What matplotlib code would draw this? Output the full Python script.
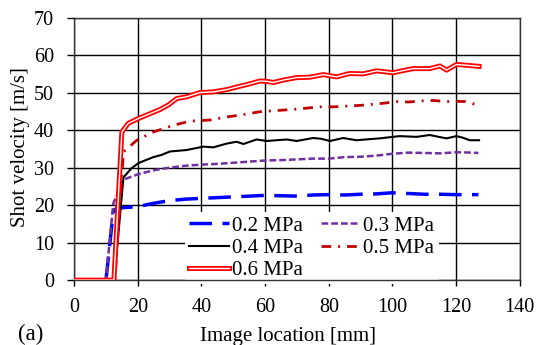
import matplotlib
matplotlib.use("Agg")
import matplotlib.pyplot as plt
import matplotlib.patheffects as pe

plt.rcParams['font.family'] = ['Liberation Serif', 'DejaVu Serif']
plt.rcParams['font.size'] = 14.5

# Datos
x02 = [0, 10, 12.3, 13.4, 20, 25, 30, 35, 40, 45, 50, 55, 60, 65, 70, 75, 80,
       85, 90, 95, 100, 105, 110, 115, 120, 125, 127]
y02 = [0, 0, 18.2, 19.2, 19.6, 20.5, 21.2, 21.6, 21.8, 22.0, 22.2, 22.4, 22.6,
       22.5, 22.4, 22.7, 22.8, 22.7, 22.9, 23.0, 23.3, 23.1, 22.9, 22.9, 22.8,
       22.8, 22.8]

x03 = [0, 10, 12.3, 15.5, 20, 25, 30, 35, 40, 45, 50, 55, 60, 65, 70, 75, 80,
       85, 90, 95, 100, 105, 110, 115, 120, 125, 127]
y03 = [0, 0, 20.4, 26.8, 28.2, 29.3, 30.0, 30.5, 30.8, 31.0, 31.3, 31.6, 31.9,
       32.0, 32.2, 32.4, 32.4, 32.8, 32.9, 33.2, 33.7, 34.0, 33.9, 33.8, 34.1,
       34.0, 33.9]

x04 = [0, 12.6, 15.5, 18, 20.2, 22.5, 24.9, 27.5, 30.1, 35.4, 40.6, 43.7, 47.9,
       51, 53.2, 57.3, 60.5, 63.5, 66.8, 69.9, 72.5, 75.1, 77.5, 80.4, 84.5,
       88.7, 92.9, 96, 98.1, 102.3, 107.6, 111.7, 114.5, 117, 120.1, 122,
       124.3, 127.2]
y04 = [0, 0, 27.4, 29.8, 31.2, 32.0, 32.8, 33.4, 34.3, 34.7, 35.6, 35.4, 36.4,
       36.9, 36.3, 37.5, 37.1, 37.3, 37.5, 37.1, 37.5, 37.9, 37.7, 37.1, 37.9,
       37.3, 37.6, 37.8, 38.0, 38.4, 38.2, 38.7, 38.2, 37.8, 38.4, 38.0, 37.3,
       37.3]

x05 = [0, 12.8, 15.5, 19.7, 24.9, 31.2, 36.4, 42.7, 47.9, 52.1, 58.4, 61.5, 65,
       69.9, 73.5, 77.2, 81, 85.6, 90, 94, 97.5, 101.3, 105, 109.6, 113, 117,
       120, 123, 125.9]
y05 = [0, 0, 34.2, 37.3, 39.5, 41.3, 42.4, 42.7, 43.5, 44.0, 44.9, 45.1, 45.3,
       45.6, 45.9, 46.2, 46.2, 46.4, 46.6, 46.9, 47.2, 47.6, 47.5, 47.8, 47.9,
       47.6, 47.7, 47.6, 46.9]

x06 = [0, 12.5, 15, 17, 20.2, 23.9, 27, 29.6, 32.2, 35.4, 39.5, 43.7, 47.9,
       52.1, 55, 58.4, 60.5, 62.6, 66, 69.9, 74, 78.3, 82.4, 86.6, 90.8, 95,
       100.2, 103.5, 106.5, 111.7, 114.9, 117, 120.1, 123.2, 127.2]
y06 = [0, 0, 39.5, 41.8, 43.1, 44.4, 45.5, 46.7, 48.4, 48.9, 50.0, 50.2, 50.8,
       51.7, 52.3, 53.1, 53.0, 52.7, 53.4, 54.0, 54.1, 54.8, 54.2, 55.1, 55.0,
       55.8, 55.3, 55.9, 56.4, 56.4, 57.1, 56.0, 57.5, 57.3, 57.0]

fig = plt.figure(figsize=(5.37, 3.45), dpi=100)
ax = fig.add_axes([0.138, 0.188, 0.830, 0.761])

l2, = ax.plot(x02, y02, color='#0000FF', lw=2.5, dashes=(6.5, 3),
              label='0.2 MPa', zorder=3)
l3, = ax.plot(x03, y03, color='#7030A0', lw=1.8, dashes=(2.7, 1.2),
              label='0.3 MPa', zorder=3)
l4, = ax.plot(x04, y04, color='black', lw=1.5, label='0.4 MPa', zorder=3)
l5, = ax.plot(x05, y05, color='#C00000', lw=2.0, dashes=(3.5, 2.5, 0.7, 2.5),
              label='0.5 MPa', zorder=3)
l6, = ax.plot(x06, y06, color='white', lw=1.0, label='0.6 MPa', zorder=3,
              path_effects=[pe.Stroke(linewidth=3.6, foreground='#FF0000'),
                            pe.Normal()])

ax.set_xlim(0, 140)
ax.set_ylim(0, 70)
ax.set_xticks(range(0, 141, 20))
ax.set_yticks(range(0, 71, 10))
ax.grid(True, color='black', lw=1.0)
ax.set_axisbelow(True)
ax.tick_params(axis='x', direction='out', length=4.5, width=1.0,
               labelsize=14.5, pad=8)
ax.tick_params(axis='y', direction='out', length=5, width=1.0,
               labelsize=14.5, pad=9.5)
for s in ax.spines.values():
    s.set_color('#333333')
    s.set_linewidth(1.0)

ax.set_xlabel('Image location [mm]', fontsize=15)
ax.set_ylabel('Shot velocity [m/s]', fontsize=15)
ax.xaxis.set_label_coords(0.481, -0.178)
ax.yaxis.set_label_coords(-0.1, 0.505)

leg = ax.legend([l2, l4, l6, l3, l5],
                ['0.2 MPa', '0.4 MPa', '0.6 MPa', '0.3 MPa', '0.5 MPa'],
                ncol=2, loc='upper left', bbox_to_anchor=(0.249, 0.26),
                borderaxespad=0, frameon=True, fancybox=False,
                edgecolor='none', facecolor='white', framealpha=1,
                handlelength=1.9, handletextpad=0.15, columnspacing=0.85,
                labelspacing=0.13, borderpad=0.2, fontsize=15)
leg.set_zorder(2.4)

fig.text(0.034, 0.032, '(a)', fontsize=16.5, va='center')

fig.savefig('out.png', dpi=100)
